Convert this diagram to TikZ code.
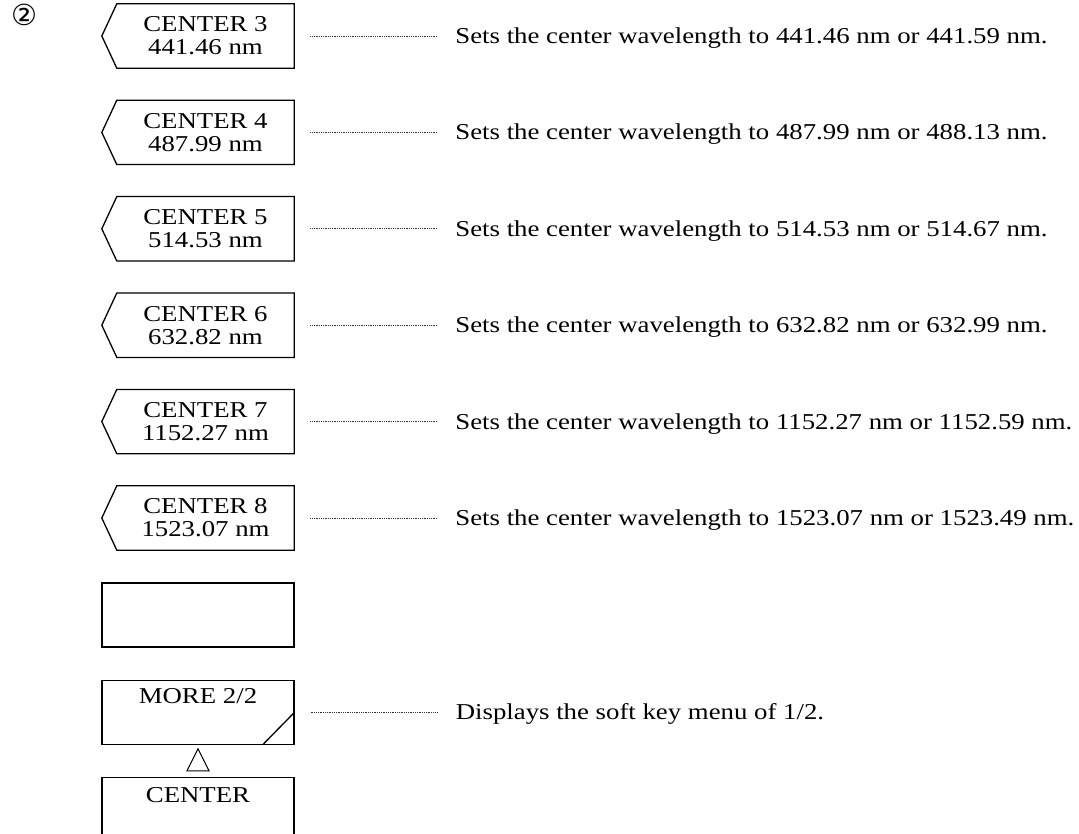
\documentclass[tikz,border=0pt]{standalone}
\usepackage{fontspec}
\setmainfont{Liberation Serif}[FakeStretch=1.18]
\newfontfamily\symfont{DejaVu Sans}
\usepackage{tikz}
\usetikzlibrary{positioning,calc}
\tikzset{
  keytxt/.style={font=\fontsize{22.7}{23}\selectfont,align=center,inner sep=0pt},
  softkey/.style={keytxt,minimum width=177pt,minimum height=64pt},
  keyline/.style={draw,line width=1.3pt,line join=miter},
  plainkey/.style={keyline,minimum width=192pt,minimum height=64pt,inner sep=0pt},
  desc/.style={font=\fontsize{22.7}{23}\selectfont,inner sep=0pt,anchor=west},
  leader/.style={line width=0.8pt,dash pattern=on 0.9pt off 0.9pt,draw=black!80}
}

\begin{document}
\begin{tikzpicture}[x=1pt,y=-1pt,node distance=32pt and 161pt]
  \useasboundingbox (0,0) rectangle (1079,834);
  \node[font=\symfont\fontsize{29}{29}\selectfont,inner sep=0pt] (num) at (24,15) {②};

  \node[softkey] (c3) at (205.5,36) {CENTER 3\\441.46 nm};
  \node[softkey,below=of c3] (c4) {CENTER 4\\487.99 nm};
  \node[softkey,below=of c4] (c5) {CENTER 5\\514.53 nm};
  \node[softkey,below=of c5] (c6) {CENTER 6\\632.82 nm};
  \node[softkey,below=of c6] (c7) {CENTER 7\\1152.27 nm};
  \node[softkey,below=of c7] (c8) {CENTER 8\\1523.07 nm};
  \foreach \k in {c3,c4,c5,c6,c7,c8}
    \draw[keyline] (\k.north west) -- (\k.north east) -- (\k.south east)
      -- (\k.south west) -- ([xshift=-15pt]\k.west) -- cycle;

  \node[plainkey,below=of c8,xshift=-7.5pt] (blank) {};
  \node[plainkey,below=of blank] (more) {};
  \node[plainkey,below=of more] (ck) {};
  \node[keytxt,below=9pt of more.north] (morelbl) {MORE 2/2};
  \node[keytxt,below=10pt of ck.north] (cklbl) {CENTER};

  % corner mark and up triangle
  \draw[line width=1.3pt] ([xshift=-32pt]more.south east) -- (more.east);
  \draw[line width=1pt] ([shift={(-11pt,-26pt)}]more.south) -- ([shift={(11pt,-26pt)}]more.south)
    -- ([yshift=-4pt]more.south) -- cycle;

  \node[desc,right=of c3,yshift=-2pt] (d3) {Sets the center wavelength to 441.46 nm or 441.59 nm.};
  \node[desc,right=of c4,yshift=-2pt] (d4) {Sets the center wavelength to 487.99 nm or 488.13 nm.};
  \node[desc,right=of c5,yshift=-2pt] (d5) {Sets the center wavelength to 514.53 nm or 514.67 nm.};
  \node[desc,right=of c6,yshift=-2pt] (d6) {Sets the center wavelength to 632.82 nm or 632.99 nm.};
  \node[desc,right=of c7,yshift=-2pt] (d7) {Sets the center wavelength to 1152.27 nm or 1152.59 nm.};
  \node[desc,right=of c8,yshift=-2pt] (d8) {Sets the center wavelength to 1523.07 nm or 1523.49 nm.};
  \node[desc,right=of more,yshift=-2pt] (dm) {Displays the soft key menu of 1/2.};

  \draw[leader] ([xshift=16pt]c3.east) -- ([xshift=-18pt]c3.east -| d3.west);
  \draw[leader] ([xshift=16pt]c4.east) -- ([xshift=-18pt]c4.east -| d4.west);
  \draw[leader] ([xshift=16pt]c5.east) -- ([xshift=-18pt]c5.east -| d5.west);
  \draw[leader] ([xshift=16pt]c6.east) -- ([xshift=-18pt]c6.east -| d6.west);
  \draw[leader] ([xshift=16pt]c7.east) -- ([xshift=-18pt]c7.east -| d7.west);
  \draw[leader] ([xshift=16pt]c8.east) -- ([xshift=-18pt]c8.east -| d8.west);
  \draw[leader] ([xshift=16pt]more.east) -- ([xshift=-18pt]more.east -| dm.west);
\end{tikzpicture}
\end{document}
